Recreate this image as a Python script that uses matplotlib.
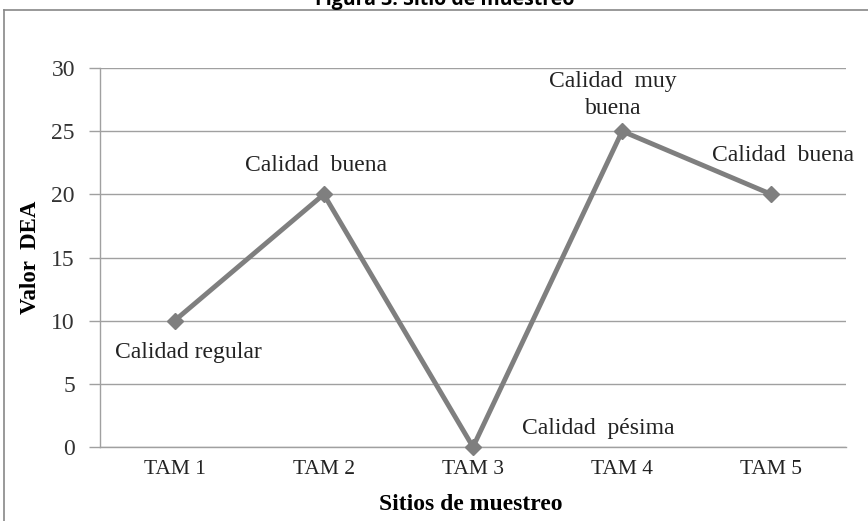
import matplotlib
matplotlib.use("Agg")
import matplotlib.pyplot as plt
from matplotlib.lines import Line2D

categories = ["TAM 1", "TAM 2", "TAM 3", "TAM 4", "TAM 5"]
values = [10, 20, 0, 25, 20]
labels = ["Calidad regular", "Calidad  buena", "Calidad  pésima", "Calidad  muy\nbuena", "Calidad  buena"]
label_pos = [(0.09, 7.5), (0.95, 22.3), (2.84, 1.5), (2.94, 27.85), (4.08, 23.1)]
yticks = [0, 5, 10, 15, 20, 25, 30]

serif = ["Liberation Serif", "DejaVu Serif"]
W, H = 868, 521
fig = plt.figure(figsize=(W / 100, H / 100), dpi=100)
ax = fig.add_axes([100 / W, 1 - 447 / H, 746 / W, (447 - 68) / H])

x = list(range(len(categories)))
ax.plot(x, values, color="#7f7f7f", lw=3.5, marker="D", ms=8,
        markerfacecolor="#7f7f7f", markeredgecolor="#7f7f7f", zorder=3, clip_on=False)

ax.set_xlim(-0.5, len(categories) - 0.5)
ax.set_ylim(0, 30)
ax.set_yticks(yticks)
ax.set_yticklabels([str(v) for v in yticks], family=serif, fontsize=17, color="#333333")
ax.set_xticks(x)
ax.set_xticklabels(categories, family=serif, fontsize=15.5, color="#222222")
ax.tick_params(axis="x", length=0, pad=9)
ax.tick_params(axis="y", length=8, color="#a0a0a0", width=1, pad=10)
ax.grid(axis="y", color="#a0a0a0", lw=1)
ax.set_axisbelow(True)
for s in ["top", "right"]:
    ax.spines[s].set_visible(False)
for s in ["left", "bottom"]:
    ax.spines[s].set_color("#a0a0a0")
    ax.spines[s].set_linewidth(1)

for (lx, ly), t in zip(label_pos, labels):
    ax.text(lx, ly, t, family=serif, fontsize=17, color="#222222",
            ha="center", va="center", linespacing=1.4)

fig.text(30 / W, 1 - 257 / H, "Valor  DEA", family=serif, fontsize=16.5, fontweight="bold",
         rotation=90, ha="center", va="center")
fig.text(471 / W, 1 - 505 / H, "Sitios de muestreo", family=serif, fontsize=17, fontweight="bold",
         ha="center", va="center")

fig.text(445 / W, 1 - 5 / H, "Figura 3. Sitio de muestreo", family=["Open Sans", "DejaVu Sans"],
         fontsize=14, fontweight="bold", ha="center", va="baseline")

fig.add_artist(Line2D([4 / W, 4 / W], [0, 1 - 10 / H], transform=fig.transFigure, color="#888888", lw=1.2))
fig.add_artist(Line2D([4 / W, 1], [1 - 10 / H, 1 - 10 / H], transform=fig.transFigure, color="#888888", lw=1.2))

fig.savefig("out.png", dpi=100)
